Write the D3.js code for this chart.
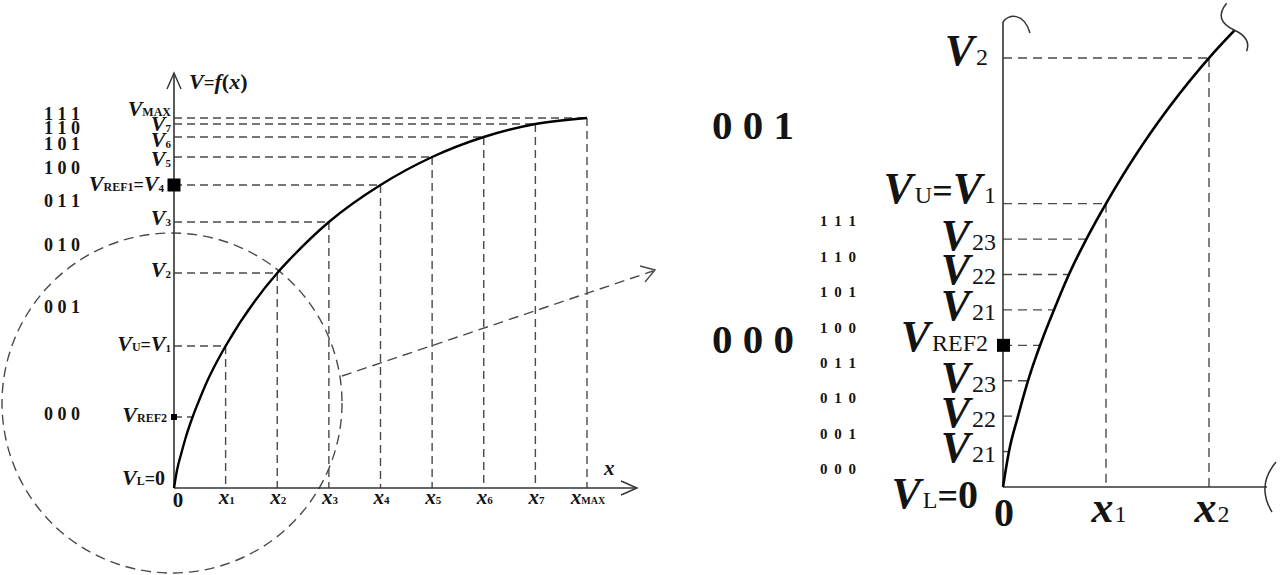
<!DOCTYPE html>
<html><head><meta charset="utf-8">
<script src="https://cdn.jsdelivr.net/npm/d3@7"></script>
<style>
body{margin:0;background:#fff}
svg{display:block}
text{font-family:"Liberation Serif","DejaVu Serif",serif;fill:#141414}
</style>
</head><body>
<svg id="c" width="1280" height="575"></svg>
<script>
// ---------------- data ----------------
const xTicks = [0, 1, 2, 3, 4, 5, 6, 7, 8];
const xTickLabels = ["0", "x_1", "x_2", "x_3", "x_4", "x_5", "x_6", "x_7", "x_MAX"];
const vLevels = [0, 142, 215, 266, 303, 331, 351, 364, 370];
const vLabels = ["V_L=0", "V_U=V_1", "V_2", "V_3", "V_REF1=V_4", "V_5", "V_6", "V_7", "V_MAX"];
const codes = ["0 0 0", "0 0 1", "0 1 0", "0 1 1", "1 0 0", "1 0 1", "1 1 0", "1 1 1"];
const curveX = [0, 0.058, 0.146, 0.243, 0.36, 0.495, 0.64, 0.81, 1, 2, 2.25, 3, 4, 5, 6, 7, 8];
const curveV = [0, 17.75, 35.5, 53.25, 71, 88.75, 106.5, 124.25, 142, 215, 229, 266, 303, 331, 351, 364, 370];
const vRef1 = 303;
const vRef2 = 71;
const vRef2Label = "V_REF2";
const axisTitleX = "x";
// zoomed view (0 .. x2)
const zoomXTicks = [0, 1, 2];
const zoomXLabels = ["0", "x_1", "x_2"];
const zoomTopLevel = 215;
const zoomTopLabel = "V_2";
const zoomLevels = [0, 17.75, 35.5, 53.25, 71, 88.75, 106.5, 124.25, 142];
const zoomLabels = ["V_L=0", "V_21", "V_22", "V_23", "V_REF2", "V_21", "V_22", "V_23", "V_U=V_1"];
const zoomBigCodes = ["0 0 0", "0 0 1"];
const zoomXEnd = 2.25;

// ---------------- setup ----------------
const svg = d3.select("#c");
const dashCol = "#4a4a4a";

const xL = d3.scaleLinear().domain([0, 8]).range([174, 587]);
const yL = d3.scaleLinear().domain([0, 370]).range([488, 118]);
const xR = d3.scaleLinear().domain([0, 2]).range([1003, 1209]);
const yR = d3.scaleLinear().domain([0, 215]).range([487, 58]);

const pts = curveX.map((x, i) => [x, curveV[i]]);

const probe = svg.append("path").attr("fill", "none").attr("stroke", "none")
  .attr("d", d3.line().curve(d3.curveMonotoneX).x(d => d[0] * 100).y(d => d[1])(pts));
const pnode = probe.node(), plen = pnode.getTotalLength();
const table = d3.range(0, 3001).map(i => { const p = pnode.getPointAtLength(plen * i / 3000); return [p.x / 100, p.y]; });
probe.remove();
function xAtV(v) {
  for (let i = 1; i < table.length; i++) {
    if (table[i][1] >= v) {
      const a = table[i - 1], b = table[i];
      const t = b[1] === a[1] ? 0 : (v - a[1]) / (b[1] - a[1]);
      return a[0] + t * (b[0] - a[0]);
    }
  }
  return table[table.length - 1][0];
}

function rich(g, x, y, spec, o) {
  const t = g.append("text").attr("x", x).attr("y", y).attr("text-anchor", o.anchor || "end");
  let shift = 0;
  spec.split("=").forEach((piece, i) => {
    if (i > 0) {
      t.append("tspan").text("=").attr("dy", -shift).style("font-size", o.eq + "px").style("font-weight", "bold");
      shift = 0;
    }
    const [main, sub] = piece.split("_");
    const isNum = /^[0-9]+$/.test(main);
    t.append("tspan").text(main).attr("dy", -shift)
      .style("font-size", (isNum ? o.num : o.main) + "px")
      .style("font-style", isNum ? "normal" : "italic").style("font-weight", "bold");
    shift = 0;
    if (sub) {
      const isDigit = /^[0-9]+$/.test(sub);
      const sd = isDigit ? o.subDyNum : o.subDyTxt;
      t.append("tspan").text(sub).attr("dx", o.subDx || 0).attr("dy", sd)
        .style("font-size", (isDigit ? o.subNum : o.subTxt) + "px")
        .style("font-weight", o.subBold ? "bold" : "normal");
      shift = sd;
    }
  });
  return t;
}

function dline(g, x1, y1, x2, y2, dash) {
  g.append("line").attr("x1", x1).attr("y1", y1).attr("x2", x2).attr("y2", y2)
    .attr("stroke", dashCol).attr("stroke-width", 1.4).attr("stroke-dasharray", dash || "8,5");
}

// ================= LEFT CHART =================
const L = svg.append("g");
const leftOpt = { main: 22, num: 20, eq: 18, subNum: 11, subTxt: 12, subDyNum: 1, subDyTxt: 0, subBold: true, subDx: 0 };

xTicks.forEach((xi, i) => {
  if (i === 0) return;
  const px = xL(xi), py = yL(vLevels[i]);
  dline(L, xL(0), py, px, py);
  dline(L, px, py, px, yL(0));
});
dline(L, xL(0), yL(vRef2), xL(xAtV(vRef2)), yL(vRef2));

L.append("circle").attr("cx", 172).attr("cy", 403).attr("r", 170)
  .attr("fill", "none").attr("stroke", dashCol).attr("stroke-width", 1.4).attr("stroke-dasharray", "10,6");
dline(L, 342, 376, 653, 271, "10,6");
L.append("path").attr("d", "M640,266 L655,270 L645,282").attr("fill", "none").attr("stroke", dashCol).attr("stroke-width", 1.4);

L.append("line").attr("x1", xL(0)).attr("y1", yL(0)).attr("x2", xL(0)).attr("y2", 73).attr("stroke", "#333").attr("stroke-width", 1.6);
L.append("path").attr("d", `M${xL(0) - 7},89 L${xL(0)},73 L${xL(0) + 7},89`).attr("fill", "none").attr("stroke", "#333").attr("stroke-width", 1.4);
L.append("line").attr("x1", xL(0)).attr("y1", yL(0)).attr("x2", 637).attr("y2", yL(0)).attr("stroke", "#333").attr("stroke-width", 1.6);
L.append("path").attr("d", `M621,${yL(0) - 7} L637,${yL(0)} L621,${yL(0) + 7}`).attr("fill", "none").attr("stroke", "#333").attr("stroke-width", 1.4);

L.append("path").datum(pts).attr("fill", "none").attr("stroke", "#000").attr("stroke-width", 2.4)
  .attr("d", d3.line().curve(d3.curveMonotoneX).x(d => xL(d[0])).y(d => yL(d[1])));

L.append("rect").attr("x", xL(0) - 6.5).attr("y", yL(vRef1) - 6.5).attr("width", 13).attr("height", 13).attr("fill", "#000");
L.append("rect").attr("x", xL(0) - 3).attr("y", yL(vRef2) - 3).attr("width", 6).attr("height", 6).attr("fill", "#000");

const leftDy = [-3, 5, 4, 3, 6, 9, 10, 7, -2];
vLabels.forEach((s, i) => {
  const ex = (i === 0) ? 165 : (i === 4 ? 164 : 171);
  rich(L, ex, yL(vLevels[i]) + leftDy[i], s, leftOpt);
});
rich(L, 167, yL(vRef2) + 5, vRef2Label, leftOpt);

const yt = L.append("text").attr("x", 189).attr("y", 89);
const ttl = [["V", 1], ["=", 0], ["f", 1], ["(", 0], ["x", 1], [")", 0]];
ttl.forEach(([s, it]) => yt.append("tspan").text(s).style("font-size", (s === "=" ? 19 : 22) + "px")
  .style("font-style", it ? "italic" : "normal").style("font-weight", "bold"));
L.append("text").attr("x", 604).attr("y", 475).text(axisTitleX)
  .style("font-size", "21px").style("font-style", "italic").style("font-weight", "bold");

xTicks.forEach((xi, i) => {
  const s = xTickLabels[i];
  if (s === "0") {
    L.append("text").attr("x", xL(xi) + 4).attr("y", 507).attr("text-anchor", "middle").text(s)
      .style("font-size", "21px").style("font-weight", "bold");
  } else {
    rich(L, xL(xi) + 1, 504, s, { anchor: "middle", main: 21, num: 18, eq: 16, subNum: 11, subTxt: 10, subDyNum: 0, subDyTxt: 0, subBold: true, subDx: 0 });
  }
});

// code labels with simple collision spacing
let prevC = Infinity;
codes.forEach((c, i) => {
  const mid = (vLevels[i] + vLevels[i + 1]) / 2;
  let cy = yL(mid) - 3;
  if (cy > prevC - 13.5) cy = prevC - 13.5;
  prevC = cy;
  L.append("text").attr("x", 44).attr("y", cy).attr("dominant-baseline", "central")
    .text(c).style("font-size", "18px").style("font-weight", "bold");
});

// ================= RIGHT CHART =================
const R = svg.append("g");
const rightOpt = { main: 44, num: 40, eq: 36, subNum: 24, subTxt: 24, subDyNum: 0, subDyTxt: 0, subBold: false, subDx: 2 };

zoomLevels.forEach((v, i) => {
  if (i === 0) return;
  dline(R, xR(0), yR(v), xR(xAtV(v)), yR(v), "9,6");
});
dline(R, xR(0), yR(zoomTopLevel), xR(zoomXTicks[2]), yR(zoomTopLevel), "9,6");
dline(R, xR(zoomXTicks[1]), yR(zoomLevels[8]), xR(zoomXTicks[1]), yR(0), "9,6");
dline(R, xR(zoomXTicks[2]), yR(zoomTopLevel), xR(zoomXTicks[2]), yR(0), "9,6");

R.append("line").attr("x1", xR(0)).attr("y1", yR(0)).attr("x2", xR(0)).attr("y2", 22).attr("stroke", "#333").attr("stroke-width", 1.6);
R.append("path").attr("d", `M${xR(0)},22 C1008,14 1024,12 1030,33`).attr("fill", "none").attr("stroke", "#333").attr("stroke-width", 1.5);
R.append("line").attr("x1", xR(0)).attr("y1", yR(0)).attr("x2", 1267).attr("y2", yR(0)).attr("stroke", "#333").attr("stroke-width", 1.6);
R.append("path").attr("d", "M1276,462 Q1256,486 1272,512").attr("fill", "none").attr("stroke", "#333").attr("stroke-width", 1.5);

const rpts = table.filter(d => d[0] <= zoomXEnd);
R.append("path").datum(rpts).attr("fill", "none").attr("stroke", "#000").attr("stroke-width", 2.6)
  .attr("d", d3.line().x(d => xR(d[0])).y(d => yR(d[1])));
const ex = xR(rpts[rpts.length - 1][0]), ey = yR(rpts[rpts.length - 1][1]);
R.append("path").attr("d", `M${ex - 8},${ey - 27} Q${ex - 22},${ey - 10} ${ex},${ey} Q${ex + 17},${ey + 8} ${ex + 12},${ey + 21}`)
  .attr("fill", "none").attr("stroke", "#333").attr("stroke-width", 1.5);

R.append("rect").attr("x", xR(0) - 6).attr("y", yR(vRef2) - 6.5).attr("width", 13).attr("height", 13).attr("fill", "#000");

const rightDy = [21, 10, 11, 11, 6, 10, 10, 11, -1];
zoomLabels.forEach((s, i) => {
  const exx = i === 0 ? 978 : (i === 4 ? 988 : 996);
  rich(R, exx, yR(zoomLevels[i]) + rightDy[i], s, rightOpt);
});
rich(R, 988, yR(zoomTopLevel) + 7, zoomTopLabel, rightOpt);

zoomXTicks.forEach((xi, i) => {
  const s = zoomXLabels[i];
  if (s === "0") {
    R.append("text").attr("x", xR(xi) + 1).attr("y", 526).attr("text-anchor", "middle").text(s)
      .style("font-size", "40px").style("font-weight", "bold");
  } else {
    rich(R, xR(xi) + 3, 522, s, { anchor: "middle", main: 44, num: 40, eq: 36, subNum: 24, subTxt: 24, subDyNum: 0, subDyTxt: 0, subBold: false, subDx: 1 });
  }
});

codes.forEach((c, i) => {
  const mid = (zoomLevels[i] + zoomLevels[i + 1]) / 2;
  R.append("text").attr("x", 820).attr("y", yR(mid)).attr("dominant-baseline", "central")
    .text(c).style("font-size", "15px").style("font-weight", "bold").style("letter-spacing", "1.5px");
});
const bigBounds = [[0, zoomLevels[8]], [zoomLevels[8], zoomTopLevel]];
zoomBigCodes.forEach((c, i) => {
  const mid = (bigBounds[i][0] + bigBounds[i][1]) / 2;
  R.append("text").attr("x", 712).attr("y", yR(mid) - 6).attr("dominant-baseline", "central")
    .text(c).style("font-size", "41px").style("font-weight", "bold");
});
</script>
</body></html>
